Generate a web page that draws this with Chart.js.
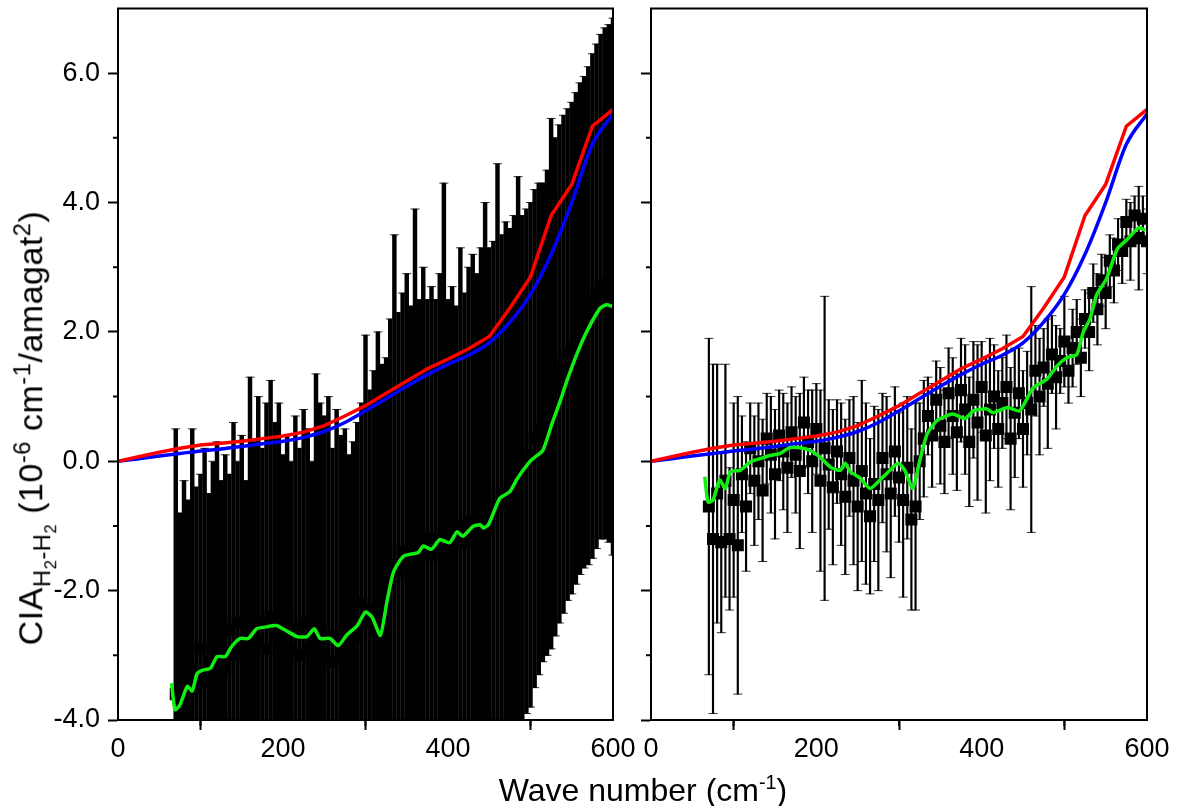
<!DOCTYPE html>
<html>
<head>
<meta charset="utf-8">
<script src="https://cdn.jsdelivr.net/npm/chart.js@4.4.0/dist/chart.umd.min.js"></script>
<style>
  html, body { margin: 0; padding: 0; background: #fff; }
  body { width: 1179px; height: 806px; position: relative; overflow: hidden;
         font-family: "Liberation Sans", Arial, sans-serif; }
  canvas { position: absolute; top: 0; }
  #leftChart { left: 0; }
  #rightChart { left: 620px; }
  .title { position: absolute; white-space: nowrap; color: #000; font-size: 32px; line-height: normal; }
  .title sub, .title sup { font-size: 0.62em; line-height: 0; }
  .title sub sub { font-size: 0.75em; }
  #xTitle { left: 643px; top: 790px; transform: translate(-50%, -50%); }
  #yTitle { left: 31px; top: 428px; font-size: 34px; letter-spacing: 0.5px;
            transform: translate(-50%, -50%) rotate(-90deg); }
  #yTitle sub, #yTitle sup { font-size: 0.7em; }
</style>
</head>
<body>
<canvas id="leftChart" width="640" height="806"></canvas>
<canvas id="rightChart" width="559" height="806"></canvas>
<div class="title" id="yTitle">CIA<sub>H<sub>2</sub>-H<sub>2</sub></sub> (10<sup>-6</sup> cm<sup>-1</sup>/amagat<sup>2</sup>)</div>
<div class="title" id="xTitle">Wave number (cm<sup>-1</sup>)</div>
<script>
// wave numbers of the measured points (cm-1)
const waveNum = [
  70, 75, 80, 85, 90, 95, 100, 105, 110, 115,
  120, 125, 130, 135, 140, 145, 150, 155, 160, 165,
  170, 175, 180, 185, 190, 195, 200, 205, 210, 215,
  220, 225, 230, 235, 240, 245, 250, 255, 260, 265,
  270, 275, 280, 285, 290, 295, 300, 305, 310, 315,
  320, 325, 330, 335, 340, 345, 350, 355, 360, 365,
  370, 375, 380, 385, 390, 395, 400, 405, 410, 415,
  420, 425, 430, 435, 440, 445, 450, 455, 460, 465,
  470, 475, 480, 485, 490, 495, 500, 505, 510, 515,
  520, 525, 530, 535, 540, 545, 550, 555, 560, 565,
  570, 575, 580, 585, 590, 595, 600
];

// left panel: measured CIA and its error
const leftCIA = [
  -3.6, -3.9, -3.3, -3.6, -3.2, -3.5, -2.9, -3.4, -3.1, -2.8,
  -3.3, -2.9, -3.2, -2.6, -3.0, -2.5, -2.9, -2.6, -3.0, -2.4,
  -2.8, -2.5, -2.9, -2.4, -2.7, -2.5, -2.8, -2.4, -2.9, -2.6,
  -3.0, -2.5, -2.9, -2.4, -2.8, -2.6, -3.0, -2.7, -3.1, -2.7,
  -3.0, -2.6, -2.9, -2.4, -2.7, -2.2, -2.5, -2.3, -2.6, -2.9,
  -2.6, -2.2, -1.9, -1.6, -1.7, -1.4, -1.6, -1.4, -1.5, -1.3,
  -1.4, -1.2, -1.45, -1.2, -1.3, -1.1, -1.35, -1.15, -1.2, -1.0,
  -1.25, -0.95, -1.1, -0.9, -1.05, -0.9, -1.0, -0.75, -0.7, -0.5,
  -0.55, -0.4, -0.35, -0.2, -0.1, 0.0, 0.1, 0.35, 0.5, 0.6,
  0.75, 1.2, 1.15, 1.35, 1.5, 1.65, 1.75, 1.9, 2.05, 2.15,
  2.25, 2.4, 2.55, 2.7, 2.75, 2.75, 2.7
];
const leftErr = [
  4.1, 3.1, 3.0, 3.0, 3.7, 3.1, 2.7, 3.6, 2.6, 2.8,
  3.6, 2.6, 3.3, 2.4, 3.6, 2.5, 3.3, 2.3, 4.3, 2.7,
  3.8, 2.7, 3.8, 3.65, 3.3, 3.4, 2.9, 2.8, 2.9, 3.3,
  3.2, 3.3, 3.4, 2.4, 4.15, 3.5, 3.7, 3.7, 3.3, 3.5,
  3.4, 3.1, 3.0, 2.7, 3.3, 3.1, 4.45, 3.4, 4.0, 4.9,
  4.1, 3.8, 4.1, 5.1, 4.0, 4.0, 4.5, 3.8, 5.4, 3.8,
  4.4, 3.7, 4.15, 3.7, 4.2, 5.4, 3.85, 3.85, 3.6, 4.3,
  3.85, 3.95, 4.3, 3.8, 4.35, 4.9, 4.3, 4.15, 5.3, 4.0,
  4.25, 4.0, 4.15, 4.6, 3.9, 3.9, 3.9, 3.85, 3.8, 3.7,
  3.75, 4.1, 3.85, 3.85, 3.85, 3.8, 3.8, 3.8, 3.8, 3.8,
  3.85, 3.9, 3.9, 3.9, 3.95, 4.0, 4.15
];

// right panel: measured CIA and its error
const rightCIA = [
  -0.7, -1.2, -0.5, -1.25, -0.3, -1.2, -0.6, -1.3, -0.2, -0.7,
  0.2, -0.3, 0.0, -0.45, 0.35, 0.1, -0.2, 0.4, 0.15, -0.1,
  0.45, 0.1, -0.15, 0.6, 0.3, 0.0, 0.5, -0.3, 0.2, -0.05,
  -0.4, 0.15, -0.2, -0.55, 0.05, -0.3, -0.7, -0.15, -0.5, -0.85,
  -0.35, -0.6, 0.05, -0.2, -0.5, 0.15, -0.25, -0.6, -0.1, -0.9,
  -0.7, 0.0, 0.35, 0.7, 0.4, 0.95, 0.55, 0.3, 1.05, 0.7,
  0.45, 1.1, 0.8, 0.3, 0.95, 0.6, 1.15, 0.4, 0.8, 1.0,
  0.5, 0.9, 1.15, 0.35, 0.75, 1.05, 0.5, 0.9, 0.8, 1.4,
  1.0, 1.45, 1.2, 1.65, 1.3, 1.55, 1.85, 1.4, 1.75, 2.0,
  1.6, 2.2, 2.0, 2.6, 2.35, 2.8, 2.6, 3.1, 2.95, 3.35,
  3.25, 3.7, 3.4, 3.8, 3.45, 3.75, 3.4
];
const rightErr = [
  2.6, 2.7, 2.0, 1.4, 1.8, 1.1, 1.5, 2.3, 0.9, 1.0,
  0.7, 1.0, 0.9, 1.1, 0.7, 0.9, 1.0, 0.7, 0.9, 1.0,
  0.7, 0.9, 1.2, 0.7, 0.8, 1.1, 0.7, 1.4, 2.35, 1.0,
  1.2, 0.8, 1.1, 1.2, 0.9, 1.3, 1.3, 1.4, 1.4, 1.2,
  1.2, 1.4, 1.0, 1.2, 1.3, 1.0, 1.0, 1.5, 1.1, 1.4,
  1.6, 0.9, 0.9, 0.6, 0.8, 0.6, 0.9, 0.8, 0.7, 0.9,
  0.9, 0.8, 1.0, 1.0, 0.9, 1.2, 0.7, 1.2, 1.1, 0.8,
  0.9, 0.7, 0.8, 1.1, 1.0, 0.7, 0.9, 0.8, 1.9, 0.7,
  0.9, 0.6, 1.0, 0.6, 0.8, 0.5, 0.7, 0.5, 0.6, 0.5,
  0.6, 0.45, 0.6, 0.45, 0.55, 0.4, 0.55, 0.4, 0.5, 0.4,
  0.5, 0.35, 0.6, 0.3, 0.8, 0.35, 0.5
];

// model curves (same in both panels)
const modelX = [0, 25, 50, 75, 100, 125, 150, 175, 200, 225, 250, 275, 300,
                325, 350, 375, 400, 425, 450, 475, 500, 525, 550, 575, 600];
const modelRed = [0, 0.07, 0.14, 0.2, 0.25, 0.28, 0.31, 0.35, 0.39, 0.45, 0.55, 0.7, 0.86,
                  1.05, 1.24, 1.43, 1.58, 1.74, 1.93, 2.37, 2.85, 3.8, 4.28, 5.18, 5.44];
const modelBlue = [0, 0.04, 0.08, 0.12, 0.16, 0.19, 0.23, 0.27, 0.31, 0.37, 0.46, 0.6, 0.78,
                   0.97, 1.16, 1.34, 1.5, 1.64, 1.83, 2.15, 2.58, 3.2, 4.0, 4.9, 5.37];

// smoothed (green) curves
const leftFitX = [65, 69, 75, 84, 90, 96, 103, 112, 120, 130,
                  138, 148, 158, 168, 180, 192, 204, 217, 229, 238,
                  245, 257, 267, 277, 290, 300, 308, 318, 326, 334,
                  346, 364, 370, 380, 390, 402, 411, 418, 430, 439,
                  443, 449, 455, 463, 475, 483, 491, 501, 515, 526,
                  536, 544, 556, 568, 584, 592, 600];
const leftFit = [-3.43, -3.84, -3.77, -3.48, -3.55, -3.28, -3.23, -3.2, -3.02, -3.02,
                 -2.86, -2.74, -2.74, -2.59, -2.56, -2.54, -2.62, -2.71, -2.71, -2.59,
                 -2.74, -2.74, -2.85, -2.69, -2.54, -2.33, -2.41, -2.69, -2.17, -1.71,
                 -1.47, -1.41, -1.31, -1.36, -1.21, -1.26, -1.09, -1.16, -1.01, -0.98,
                 -1.03, -0.98, -0.8, -0.57, -0.47, -0.29, -0.14, 0.02, 0.17, 0.58,
                 0.93, 1.24, 1.65, 2.0, 2.36, 2.42, 2.39];
const rightFitX = [65, 69, 75, 83, 90, 96, 108, 120, 132, 144,
                   156, 168, 180, 192, 204, 217, 229, 235, 241, 253,
                   265, 277, 289, 299, 307, 316, 319, 325, 334, 346,
                   365, 380, 390, 406, 414, 431, 446, 462, 479, 491,
                   503, 515, 523, 531, 539, 551, 564, 576, 590, 598];
const rightFit = [-0.24, -0.63, -0.6, -0.29, -0.42, -0.16, -0.14, -0.01, 0.04, 0.09,
                  0.12, 0.21, 0.21, 0.17, 0.07, -0.09, -0.14, -0.03, -0.16, -0.26,
                  -0.42, -0.29, -0.14, -0.03, -0.14, -0.42, -0.34, 0.0, 0.42, 0.63,
                  0.73, 0.66, 0.78, 0.81, 0.75, 0.83, 0.78, 1.13, 1.27, 1.47,
                  1.6, 1.65, 2.0, 2.2, 2.57, 2.82, 3.28, 3.43, 3.61, 3.57];

const xTicks = [0, 200, 400, 600];
const xMinor = [100, 300, 500];
const yTicks = [-4, -2, 0, 2, 4, 6];
const yMinor = [-3, -1, 1, 3, 5];

const FONT = "'Liberation Sans', Arial, sans-serif";

const pts = (xs, ys) => xs.map((x, i) => ({ x: x, y: ys[i] }));

// minor ticks + frame around the plot area
const frame = {
  id: 'frame',
  afterDraw(chart) {
    const { ctx, chartArea: a, scales: { x, y } } = chart;
    ctx.save();
    ctx.strokeStyle = '#000';
    ctx.lineWidth = 2;
    ctx.beginPath();
    yMinor.forEach(v => {
      const py = y.getPixelForValue(v);
      ctx.moveTo(a.left - 5, py); ctx.lineTo(a.left, py);
    });
    xMinor.forEach(v => {
      const px = x.getPixelForValue(v);
      ctx.moveTo(px, a.bottom); ctx.lineTo(px, a.bottom + 6);
    });
    ctx.stroke();
    ctx.strokeRect(a.left, a.top, a.right - a.left, a.bottom - a.top);
    ctx.restore();
  }
};

function makePanel(id, cia, err, fitX, fit, opt) {
  const bars = waveNum.map((x, i) => ({ x: x, y: [cia[i] - err[i], cia[i] + err[i]] }));
  const caps = waveNum.map((x, i) => ({ x: x, y: cia[i] + err[i] }))
    .concat(waveNum.map((x, i) => ({ x: x, y: cia[i] - err[i] })));

  new Chart(document.getElementById(id), {
    type: 'scatter',
    data: {
      datasets: [
        {
          type: 'bar',
          data: bars,
          backgroundColor: '#000',
          barThickness: opt.barWidth,
          order: 6
        },
        {
          type: 'scatter',
          data: caps,
          pointStyle: 'line',
          pointRadius: 4.5,
          pointBorderColor: 'rgba(0,0,0,0.8)',
          pointBorderWidth: 1,
          order: 5
        },
        {
          type: 'scatter',
          data: pts(waveNum, cia),
          pointStyle: 'rect',
          pointRadius: 8.5,
          pointBackgroundColor: '#000',
          pointBorderWidth: 0,
          order: 4
        },
        {
          type: 'line',
          data: pts(modelX, modelBlue),
          borderColor: '#0000ff',
          borderWidth: 3.5,
          pointRadius: 0,
          cubicInterpolationMode: 'monotone',
          order: 3
        },
        {
          type: 'line',
          data: pts(modelX, modelRed),
          borderColor: '#ff0000',
          borderWidth: 3.5,
          pointRadius: 0,
          tension: 0,
          order: 2
        },
        {
          type: 'line',
          data: pts(fitX, fit),
          borderColor: '#11ee11',
          borderWidth: 3.5,
          pointRadius: 0,
          tension: 0.2,
          order: 1
        }
      ]
    },
    options: {
      responsive: false,
      animation: false,
      events: [],
      layout: { padding: { top: 3, right: opt.padRight, left: 0, bottom: 0 } },
      plugins: { legend: { display: false }, tooltip: { enabled: false } },
      scales: {
        x: {
          type: 'linear',
          min: 0,
          max: 600,
          offset: false,
          afterBuildTicks: s => { s.ticks = xTicks.map(v => ({ value: v })); },
          afterFit: s => { s.height = 86; s.paddingLeft = 0; s.paddingRight = 0; },
          grid: { drawOnChartArea: false, drawTicks: true, tickLength: 10, tickWidth: 2, tickColor: '#000' },
          border: { display: true, color: '#000', width: 2 },
          ticks: { color: '#000', font: { family: FONT, size: 27 }, padding: 3, maxRotation: 0, autoSkip: false }
        },
        y: {
          type: 'linear',
          min: -4,
          max: 7,
          afterBuildTicks: s => { s.ticks = yTicks.map(v => ({ value: v })); },
          afterFit: s => { s.width = opt.yWidth; s.paddingTop = 0; s.paddingBottom = 0; },
          grid: { drawOnChartArea: false, drawTicks: true, tickLength: 10, tickWidth: 2, tickColor: '#000' },
          border: { display: true, color: '#000', width: 2 },
          ticks: {
            color: '#000',
            font: { family: FONT, size: 27 },
            padding: 8,
            autoSkip: false,
            callback: v => opt.labels ? v.toFixed(1) : ''
          }
        }
      }
    },
    plugins: [frame]
  });
}

makePanel('leftChart', leftCIA, leftErr, leftFitX, leftFit,
  { barWidth: 3.8, padRight: 27, yWidth: 118, labels: true });
makePanel('rightChart', rightCIA, rightErr, rightFitX, rightFit,
  { barWidth: 1.5, padRight: 32, yWidth: 31, labels: false });
</script>
</body>
</html>
